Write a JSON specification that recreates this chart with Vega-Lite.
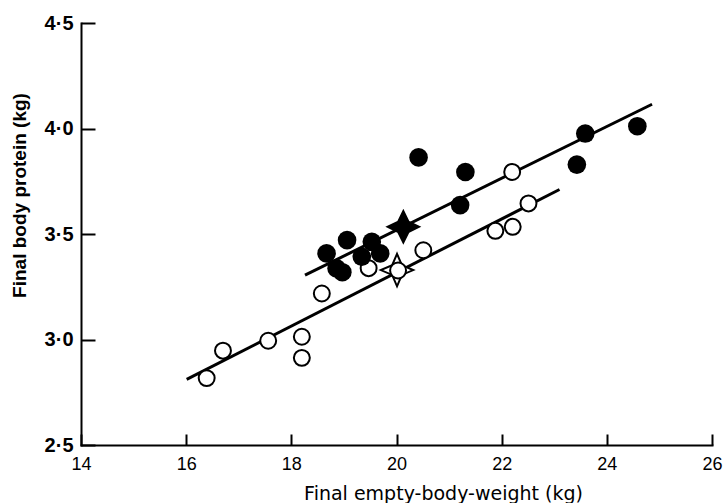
{
  "$schema": "https://vega.github.io/schema/vega-lite/v6.json",
  "width": 631,
  "height": 422,
  "autosize": {"type": "none"},
  "padding": {"left": 81, "top": 23, "right": 12, "bottom": 58},
  "background": "white",
  "config": {"view": {"stroke": null}},
  "datasets": {
    "points": [
      {"x": 16.39, "y": 2.817, "g": "open"},
      {"x": 16.70, "y": 2.947, "g": "open"},
      {"x": 17.56, "y": 2.994, "g": "open"},
      {"x": 18.20, "y": 3.013, "g": "open"},
      {"x": 18.20, "y": 2.913, "g": "open"},
      {"x": 18.58, "y": 3.218, "g": "open"},
      {"x": 19.47, "y": 3.338, "g": "open"},
      {"x": 20.03, "y": 3.327, "g": "open"},
      {"x": 20.51, "y": 3.423, "g": "open"},
      {"x": 21.88, "y": 3.515, "g": "open"},
      {"x": 22.21, "y": 3.534, "g": "open"},
      {"x": 22.51, "y": 3.645, "g": "open"},
      {"x": 22.20, "y": 3.794, "g": "open"},
      {"x": 20.42, "y": 3.863, "g": "filled"},
      {"x": 21.31, "y": 3.794, "g": "filled"},
      {"x": 21.21, "y": 3.637, "g": "filled"},
      {"x": 23.59, "y": 3.976, "g": "filled"},
      {"x": 23.43, "y": 3.829, "g": "filled"},
      {"x": 24.58, "y": 4.011, "g": "filled"},
      {"x": 18.67, "y": 3.408, "g": "filled"},
      {"x": 18.86, "y": 3.337, "g": "filled"},
      {"x": 18.97, "y": 3.319, "g": "filled"},
      {"x": 19.06, "y": 3.471, "g": "filled"},
      {"x": 19.34, "y": 3.392, "g": "filled"},
      {"x": 19.53, "y": 3.463, "g": "filled"},
      {"x": 19.69, "y": 3.408, "g": "filled"},
      {"x": 20.13, "y": 3.534, "g": "filledStar"},
      {"x": 20.01, "y": 3.329, "g": "openStar"}
    ],
    "lines": [
      {"x": 18.26, "y": 3.305, "id": "upper"},
      {"x": 24.86, "y": 4.115, "id": "upper"},
      {"x": 16.01, "y": 2.811, "id": "lower"},
      {"x": 23.10, "y": 3.711, "id": "lower"}
    ]
  },
  "encoding": {
    "x": {
      "field": "x", "type": "quantitative",
      "scale": {"domain": [14, 26], "nice": false, "zero": false},
      "axis": {
        "values": [14, 16, 18, 20, 22, 24, 26],
        "grid": false,
        "tickSize": -11, "tickWidth": 2, "tickColor": "black",
        "domainColor": "black", "domainWidth": 2, "domainCap": "square",
        "labelPadding": 21, "labelFont": "Liberation Sans", "labelFontSize": 18,
        "labelColor": "black", "labelFlush": false, "labelOverlap": false,
        "title": "Final empty-body-weight (kg)",
        "titleFont": "DejaVu Sans", "titleFontSize": 19, "titleFontWeight": "normal",
        "titleColor": "black", "titleX": 362, "titleY": 54,
        "titleAlign": "center", "titleBaseline": "alphabetic"
      }
    },
    "y": {
      "field": "y", "type": "quantitative",
      "scale": {"domain": [2.5, 4.5], "nice": false, "zero": false},
      "axis": {
        "values": [2.5, 3, 3.5, 4, 4.5],
        "grid": false,
        "tickSize": -14, "tickWidth": 2, "tickColor": "black",
        "domainColor": "black", "domainWidth": 2, "domainCap": "square",
        "labelPadding": 22, "labelFont": "Liberation Sans", "labelFontSize": 20,
        "labelFontWeight": "bold",
        "labelColor": "black", "labelFlush": false, "labelOverlap": false,
        "labelExpr": "replace(format(datum.value, '.1f'), '.', '·')",
        "title": "Final body protein (kg)",
        "titleFont": "Liberation Sans", "titleFontSize": 19, "titleFontWeight": "bold",
        "titleColor": "black", "titleX": -62, "titleY": 172,
        "titleAlign": "center", "titleBaseline": "middle", "titleAngle": -90
      }
    }
  },
  "layer": [
    {
      "data": {"name": "lines"},
      "mark": {"type": "line", "color": "black", "strokeWidth": 3},
      "encoding": {"detail": {"field": "id"}}
    },
    {
      "data": {"name": "points"},
      "transform": [{"filter": "datum.g === 'openStar'"}],
      "mark": {"type": "point", "shape": "M0,-1L0.3,-0.3L1,0L0.3,0.3L0,1L-0.3,0.3L-1,0L-0.3,-0.3Z", "size": 1050, "filled": true, "fill": "white", "stroke": "black", "strokeWidth": 2, "opacity": 1}
    },
    {
      "data": {"name": "points"},
      "transform": [{"filter": "datum.g === 'open'"}],
      "mark": {"type": "point", "shape": "circle", "size": 254, "filled": true, "fill": "white", "stroke": "black", "strokeWidth": 2, "opacity": 1}
    },
    {
      "data": {"name": "points"},
      "transform": [{"filter": "datum.g === 'filled'"}],
      "mark": {"type": "point", "shape": "circle", "size": 346, "filled": true, "fill": "black", "strokeWidth": 0, "opacity": 1}
    },
    {
      "data": {"name": "points"},
      "transform": [{"filter": "datum.g === 'filledStar'"}],
      "mark": {"type": "point", "shape": "M0,-1L0.33,-0.33L1,0L0.33,0.33L0,1L-0.33,0.33L-1,0L-0.33,-0.33Z", "size": 1296, "filled": true, "fill": "black", "strokeWidth": 0, "opacity": 1}
    }
  ]
}
